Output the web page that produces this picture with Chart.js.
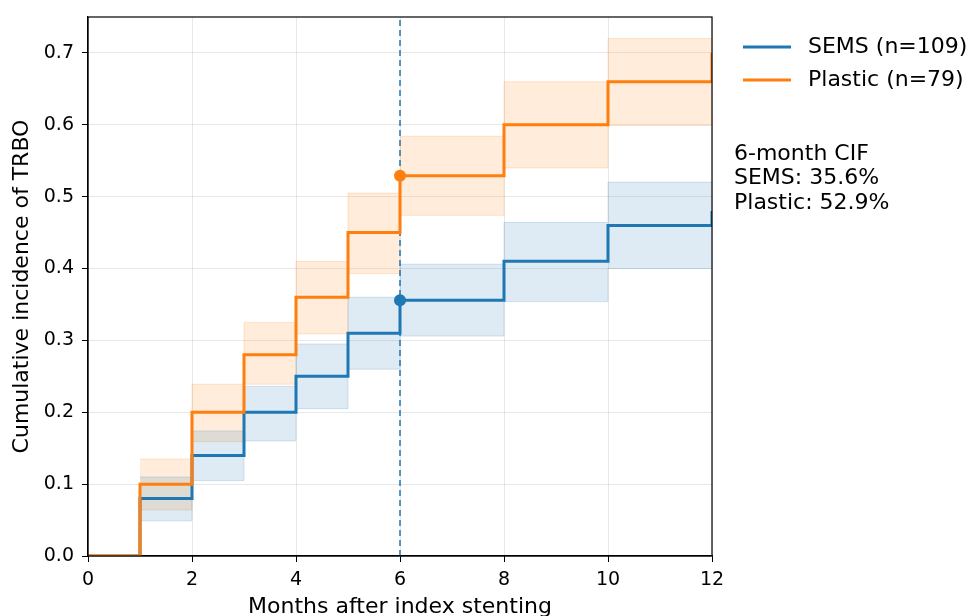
<!DOCTYPE html>
<html>
<head>
<meta charset="utf-8">
<script src="https://cdn.jsdelivr.net/npm/chart.js@4.4.0/dist/chart.umd.min.js"></script>
<style>
  html, body { margin: 0; padding: 0; background: #fff; }
  #wrap { width: 971px; height: 616px; position: relative; }
</style>
</head>
<body>
<div id="wrap"><canvas id="cif"></canvas></div>
<script>
// Cumulative incidence of TRBO — SEMS vs Plastic

const months = [0, 1, 2, 3, 4, 5, 6, 8, 10, 12];
const semsCif = [0, 0.08, 0.14, 0.20, 0.25, 0.31, 0.356, 0.41, 0.46, 0.48];
const plasticCif = [0, 0.10, 0.20, 0.28, 0.36, 0.45, 0.529, 0.60, 0.66, 0.70];

// confidence bands, one value per interval starting at bandMonths[i]
const bandMonths = [1, 2, 3, 4, 5, 6, 8, 10, 12];
const semsLower = [0.049, 0.105, 0.160, 0.205, 0.260, 0.306, 0.354, 0.400, 0.400];
const semsUpper = [0.110, 0.174, 0.236, 0.295, 0.360, 0.406, 0.464, 0.520, 0.520];
const plasticLower = [0.064, 0.159, 0.239, 0.309, 0.393, 0.474, 0.540, 0.599, 0.599];
const plasticUpper = [0.135, 0.239, 0.325, 0.410, 0.505, 0.584, 0.660, 0.720, 0.720];

const landmark = 6;
const semsAt6 = 0.356;
const plasticAt6 = 0.529;

const xTicks = [0, 2, 4, 6, 8, 10, 12];
const yTicks = [0, 0.1, 0.2, 0.3, 0.4, 0.5, 0.6, 0.7];

const BLUE = '#1f77b4';
const ORANGE = '#ff7f0e';
const FONT = "'DejaVu Sans', sans-serif";

const pts = (xs, ys) => xs.map((x, i) => ({ x, y: ys[i] }));

// frame, legend, annotation and axis titles
const extras = {
    id: 'extras',
    afterDraw(chart) {
        const { ctx, chartArea: a } = chart;
        ctx.save();
        ctx.strokeStyle = '#000';
        ctx.lineWidth = 1.2;
        ctx.strokeRect(a.left, a.top, a.right - a.left, a.bottom - a.top);

        ctx.fillStyle = '#000';
        ctx.font = '22px ' + FONT;
        ctx.textBaseline = 'middle';
        ctx.textAlign = 'left';

        const legend = [['SEMS (n=109)', BLUE, 47], ['Plastic (n=79)', ORANGE, 80]];
        legend.forEach(([label, color, y]) => {
            ctx.strokeStyle = color;
            ctx.lineWidth = 3;
            ctx.beginPath();
            ctx.moveTo(743, y);
            ctx.lineTo(791, y);
            ctx.stroke();
            ctx.fillText(label, 808, y);
        });

        ['6-month CIF', 'SEMS: 35.6%', 'Plastic: 52.9%'].forEach((t, i) => {
            ctx.fillText(t, 734, 154 + i * 24.5);
        });

        ctx.textAlign = 'center';
        ctx.fillText('Months after index stenting', (a.left + a.right) / 2, 607);
        ctx.translate(22, (a.top + a.bottom) / 2);
        ctx.rotate(-Math.PI / 2);
        ctx.fillText('Cumulative incidence of TRBO', 0, 0);
        ctx.restore();
    }
};

const stepLine = (data, color, order) => ({
    data, borderColor: color, borderWidth: 3, stepped: true,
    pointRadius: 0, fill: false, order
});

const bandEdge = (data, color, fill) => ({
    data, borderColor: color, borderWidth: 1, stepped: true,
    pointRadius: 0, backgroundColor: fill ? fill : 'transparent',
    fill: fill ? '+1' : false, order: 10
});

new Chart(document.getElementById('cif'), {
    type: 'line',
    data: {
        datasets: [
            stepLine(pts(months, plasticCif), ORANGE, 1),
            stepLine(pts(months, semsCif), BLUE, 2),
            bandEdge(pts(bandMonths, semsUpper), 'rgba(31,119,180,0.18)', 'rgba(31,119,180,0.15)'),
            bandEdge(pts(bandMonths, semsLower), 'rgba(31,119,180,0.18)', null),
            bandEdge(pts(bandMonths, plasticUpper), 'rgba(255,127,14,0.18)', 'rgba(255,127,14,0.15)'),
            bandEdge(pts(bandMonths, plasticLower), 'rgba(255,127,14,0.18)', null),
            {
                type: 'scatter',
                data: [{ x: landmark, y: semsAt6 }, { x: landmark, y: plasticAt6 }],
                backgroundColor: [BLUE, ORANGE], borderWidth: 0,
                pointRadius: 6, order: 0
            },
            {
                data: [{ x: landmark, y: 0 }, { x: landmark, y: 0.75 }],
                borderColor: BLUE, borderWidth: 1.5, borderDash: [6, 4],
                pointRadius: 0, fill: false, order: 3
            }
        ]
    },
    options: {
        responsive: true,
        maintainAspectRatio: false,
        animation: false,
        layout: { padding: { top: 17, right: 259, left: 0, bottom: 0 } },
        plugins: { legend: { display: false }, tooltip: { enabled: false } },
        scales: {
            x: {
                type: 'linear', min: 0, max: 12,
                afterBuildTicks: s => { s.ticks = xTicks.map(v => ({ value: v })); },
                afterFit: s => { s.height = 60; s.paddingLeft = 0; s.paddingRight = 0; },
                ticks: { color: '#000', font: { size: 19, family: FONT }, padding: 7, maxRotation: 0 },
                grid: { color: 'rgba(0,0,0,0.09)', tickColor: '#000', tickLength: 6 },
                border: { color: '#000', width: 1.2 }
            },
            y: {
                min: 0, max: 0.75,
                afterBuildTicks: s => { s.ticks = yTicks.map(v => ({ value: v })); },
                afterFit: s => { s.width = 88; s.paddingTop = 0; s.paddingBottom = 0; },
                ticks: { color: '#000', font: { size: 19, family: FONT }, padding: 8, callback: v => v.toFixed(1) },
                grid: { color: 'rgba(0,0,0,0.09)', tickColor: '#000', tickLength: 6 },
                border: { color: '#000', width: 1.2 }
            }
        }
    },
    plugins: [extras]
});
</script>
</body>
</html>
